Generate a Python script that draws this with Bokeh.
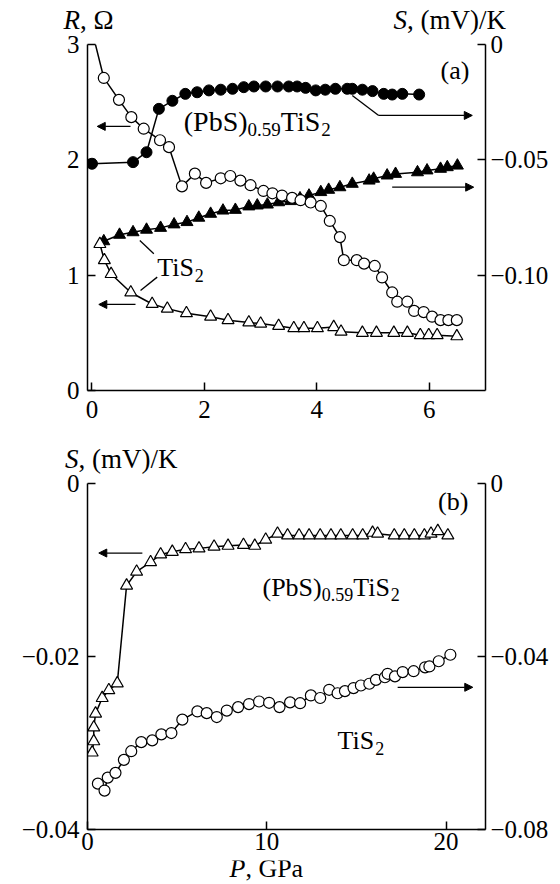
from bokeh.plotting import figure
from bokeh.models import (Range1d, LinearAxis, FixedTicker, CustomJSTickFormatter,
                          Label, Arrow, NormalHead)
from bokeh.layouts import column
from bokeh.embed import file_html
from bokeh.resources import INLINE

FONT = "Liberation Serif"

# ---------------- data, panel (a) ----------------
# (PbS)0.59TiS2 resistance, Ohm (open circles, left axis)
pbs_R_p = [0.0, 0.21, 0.48, 0.70, 0.92, 1.21, 1.37, 1.60, 1.83, 2.03, 2.29, 2.46, 2.64, 2.82,
           3.05, 3.21, 3.38, 3.56, 3.71, 3.89, 4.07, 4.23, 4.41, 4.48, 4.71, 4.84, 5.03, 5.16,
           5.34, 5.43, 5.61, 5.73, 5.90, 6.05, 6.20, 6.34, 6.49]
pbs_R = [3.12, 2.71, 2.52, 2.37, 2.27, 2.17, 2.11, 1.77, 1.88, 1.80, 1.84, 1.86, 1.82, 1.78,
         1.73, 1.71, 1.69, 1.67, 1.65, 1.63, 1.60, 1.47, 1.33, 1.13, 1.13, 1.10, 1.08, 0.98,
         0.85, 0.77, 0.77, 0.69, 0.68, 0.64, 0.61, 0.61, 0.61]

# (PbS)0.59TiS2 thermopower, mV/K (filled circles, right axis)
pbs_S_p = [0.0, 0.73, 0.97, 1.19, 1.43, 1.66, 1.87, 2.08, 2.29, 2.50, 2.70, 2.88, 3.09, 3.30,
           3.50, 3.65, 3.80, 3.98, 4.15, 4.33, 4.54, 4.63, 4.81, 4.99, 5.19, 5.34, 5.52, 5.82]
pbs_S = [-0.0517, -0.0510, -0.0467, -0.0279, -0.0244, -0.0214, -0.0207, -0.0199, -0.0196,
         -0.0192, -0.0185, -0.0182, -0.0182, -0.0182, -0.0182, -0.0182, -0.0188, -0.0199,
         -0.0196, -0.0192, -0.0192, -0.0192, -0.0196, -0.0202, -0.0214, -0.0217, -0.0214,
         -0.0217]

# TiS2 thermopower, mV/K (filled triangles, right axis)
tis_S_p = [0.21, 0.49, 0.73, 0.97, 1.22, 1.46, 1.69, 1.90, 2.11, 2.33, 2.55, 2.79, 2.94, 3.12,
           3.32, 3.53, 3.70, 3.86, 4.07, 4.21, 4.41, 4.63, 4.93, 5.01, 5.25, 5.40, 5.79, 5.96,
           6.20, 6.32, 6.50]
tis_S = [-0.0853, -0.0825, -0.0814, -0.0803, -0.0795, -0.0780, -0.0770, -0.0751, -0.0734,
         -0.0720, -0.0717, -0.0702, -0.0698, -0.0694, -0.0684, -0.0679, -0.0667, -0.0655,
         -0.0640, -0.0630, -0.0619, -0.0604, -0.0590, -0.0582, -0.0568, -0.0561, -0.0554,
         -0.0546, -0.0539, -0.0532, -0.0525]

# TiS2 resistance, Ohm (open triangles, left axis)
tis_R_p = [0.14, 0.22, 0.34, 0.69, 1.07, 1.34, 1.68, 2.11, 2.42, 2.79, 3.00, 3.32, 3.59, 3.77,
           4.01, 4.30, 4.43, 4.81, 5.06, 5.37, 5.61, 5.84, 5.99, 6.14, 6.49]
tis_R = [1.27, 1.13, 1.01, 0.85, 0.75, 0.71, 0.67, 0.64, 0.61, 0.59, 0.58, 0.56, 0.54, 0.54,
         0.54, 0.55, 0.51, 0.50, 0.50, 0.50, 0.50, 0.48, 0.48, 0.48, 0.47]

# ---------------- data, panel (b) ----------------
# (PbS)0.59TiS2 thermopower vs P (open triangles, left axis)
b_pbs_p = [0.26, 0.35, 0.35, 0.45, 0.82, 1.19, 1.66, 2.18, 2.74, 3.52, 4.08, 4.73, 5.47, 6.22,
           7.06, 7.84, 8.70, 9.33, 9.94, 10.60, 11.16, 11.80, 12.36, 12.98, 13.58, 14.13,
           14.79, 15.35, 15.90, 16.18, 17.11, 17.67, 18.23, 18.79, 19.16, 19.54, 20.10]
b_pbs_S = [-0.0311, -0.0298, -0.0282, -0.0266, -0.0248, -0.0239, -0.0231, -0.0118, -0.0102,
           -0.0091, -0.0082, -0.0079, -0.0076, -0.0075, -0.0073, -0.0072, -0.0071, -0.0072,
           -0.0065, -0.0058, -0.0060, -0.0060, -0.0060, -0.0060, -0.0060, -0.0060, -0.0060,
           -0.0060, -0.0057, -0.0058, -0.0060, -0.0060, -0.0060, -0.0060, -0.0058, -0.0055,
           -0.0060]

# TiS2 thermopower vs P (open circles, right axis)
b_tis_p = [0.58, 0.95, 1.13, 1.56, 2.03, 2.44, 3.00, 3.61, 4.12, 4.68, 5.29, 6.13, 6.65, 7.21,
           7.77, 8.40, 9.01, 9.57, 10.13, 10.71, 11.30, 11.86, 12.46, 12.98, 13.48, 13.95,
           14.36, 14.84, 15.25, 15.72, 16.09, 16.59, 16.74, 17.15, 17.58, 18.19, 18.83, 19.07,
           19.59, 20.24]
b_tis_S = [-0.0694, -0.0710, -0.0680, -0.0669, -0.0639, -0.0619, -0.0598, -0.0594, -0.0580,
           -0.0577, -0.0546, -0.0527, -0.0531, -0.0540, -0.0525, -0.0517, -0.0510, -0.0504,
           -0.0507, -0.0517, -0.0506, -0.0508, -0.0490, -0.0496, -0.0477, -0.0485, -0.0480,
           -0.0473, -0.0467, -0.0463, -0.0454, -0.0448, -0.0440, -0.0446, -0.0436, -0.0434,
           -0.0425, -0.0423, -0.0411, -0.0396]

# tick values
a_xticks = [0, 2, 4, 6]
a_lticks = [0, 1, 2, 3]
a_rticks = [0, -0.05, -0.10]
b_xticks = [0, 10, 20]
b_lticks = [0, -0.02, -0.04]
b_rticks = [0, -0.04, -0.08]

# ---------------- helpers ----------------
W_REG = {'(': 333, ')': 333, 'P': 556, 'b': 500, 'S': 556, 'T': 611, 'i': 278, '0': 500,
         '2': 500, '5': 500, '9': 500, '.': 250, ',': 250, ' ': 250, 'Ω': 768, 'm': 778,
         'V': 722, '/': 278, 'K': 722, 'G': 722, 'a': 444}
W_IT = {'R': 611, 'S': 500, 'P': 611}
RAISE = 0.37   # label anchor sits this many ems above the visual baseline

def tw(s, size, italic):
    tab = W_IT if italic else W_REG
    return sum(tab.get(c, W_REG.get(c, 500)) for c in s) / 1000.0 * size

def rich(p, x, y, parts):
    # y is the wanted baseline; each part: (text, size, italic, drop in px)
    dx = 0.0
    for text, size, italic, drop in parts:
        p.add_layout(Label(x=x, y=y, x_offset=dx, y_offset=RAISE * size - drop, text=text,
                           text_font=FONT, text_font_size=f"{size}px",
                           text_font_style="italic" if italic else "normal",
                           text_baseline="alphabetic", text_align="left",
                           text_color="black"))
        dx += tw(text, size, italic)

def compound(p, x, y, big=26, small=18):
    rich(p, x, y, [("(PbS)", big, False, 0), ("0.59", small, False, 4),
                   ("TiS", big, False, 0), ("2", small, False, 4)])

def tis2(p, x, y, big=26, small=18):
    rich(p, x, y, [("TiS", big, False, 0), ("2", small, False, 5)])

def arrow(p, x0, y0, x1, y1, head=True):
    p.add_layout(Arrow(x_start=x0, y_start=y0, x_end=x1, y_end=y1, line_width=1.3,
                       line_color="black",
                       end=NormalHead(size=8, fill_color="black", line_color="black",
                                      line_width=1) if head else None))

def style_axis(ax, ticks, fmt=None, standoff=8):
    ax.ticker = FixedTicker(ticks=ticks)
    if fmt is not None:
        ax.formatter = fmt
    ax.major_tick_in = 8
    ax.major_tick_out = 0
    ax.minor_tick_in = 0
    ax.minor_tick_out = 0
    ax.axis_line_width = 1.5
    ax.axis_line_color = "black"
    ax.major_tick_line_width = 1.5
    ax.major_tick_line_color = "black"
    ax.major_label_text_font = FONT
    ax.major_label_text_font_size = "25px"
    ax.major_label_text_color = "black"
    ax.major_label_standoff = standoff

def sfmt():
    return CustomJSTickFormatter(code='return tick == 0 ? "0" : "\\u2212" + Math.abs(tick).toFixed(2);')

W = 560

def base_fig(h, xr, yr, top, bottom):
    p = figure(width=W, height=h, x_range=xr, y_range=yr, output_backend="svg",
               toolbar_location=None, title=None, min_border_left=87, min_border_right=75,
               min_border_top=top, min_border_bottom=bottom, frame_align=False)
    p.xgrid.visible = False
    p.ygrid.visible = False
    p.outline_line_color = None
    p.background_fill_color = "white"
    p.border_fill_color = "white"
    return p

def strip(top, h):
    # text-only band; its data coordinates equal page pixels
    s = figure(width=W, height=h, x_range=Range1d(0, W), y_range=Range1d(top + h, top),
               output_backend="svg", toolbar_location=None, title=None,
               min_border_left=0, min_border_right=0, min_border_top=0, min_border_bottom=0,
               x_axis_type=None, y_axis_type=None, frame_align=False)
    s.xgrid.visible = False
    s.ygrid.visible = False
    s.outline_line_color = None
    s.background_fill_color = "white"
    s.border_fill_color = "white"
    return s

LW = 1.5

# ---------------- top strip (titles of panel a) ----------------
s_top = strip(0, 35)
rich(s_top, 63, 29, [("R", 27, True, 0), (", Ω", 27, False, 0)])
rich(s_top, 393, 29, [("S", 27, True, 0), (", (mV)/K", 27, False, 0)])

# ---------------- panel (a) ----------------
pa = base_fig(398, Range1d(-0.08, 7.0), Range1d(0, 3), 9, 43)
pa.extra_y_ranges = {"s": Range1d(-0.15, 0)}
style_axis(pa.xaxis[0], a_xticks, standoff=10)
style_axis(pa.yaxis[0], a_lticks, standoff=8)
ra = LinearAxis(y_range_name="s")
style_axis(ra, a_rticks, fmt=sfmt(), standoff=5)
pa.add_layout(ra, "right")

pa.line(pbs_S_p, pbs_S, y_range_name="s", line_color="black", line_width=LW)
pa.scatter(pbs_S_p, pbs_S, y_range_name="s", marker="circle", size=11,
           fill_color="black", line_color="black")
pa.line(tis_S_p, tis_S, y_range_name="s", line_color="black", line_width=LW)
pa.scatter(tis_S_p, tis_S, y_range_name="s", marker="triangle", size=12,
           fill_color="black", line_color="black")
pa.line(tis_R_p, tis_R, line_color="black", line_width=LW)
pa.scatter(tis_R_p, tis_R, marker="triangle", size=12, fill_color="white",
           line_color="black", line_width=1.2)
pa.line(pbs_R_p, pbs_R, line_color="black", line_width=LW)
pa.scatter(pbs_R_p, pbs_R, marker="circle", size=11, fill_color="white",
           line_color="black", line_width=1.2)

rich(pa, 6.20, 2.689, [("(a)", 26, False, 0)])
compound(pa, 1.633, 2.240, big=28, small=19)
tis2(pa, 1.160, 0.983)
arrow(pa, 0.685, 2.29, 0.093, 2.29)
arrow(pa, 0.774, 0.746, 0.121, 0.746)
arrow(pa, 4.63, 2.558, 5.10, 2.385, head=False)
arrow(pa, 5.10, 2.385, 6.765, 2.385)
arrow(pa, 5.34, 1.763, 6.79, 1.763)
arrow(pa, 0.851, 1.301, 1.10, 1.186, head=False)
arrow(pa, 0.863, 0.867, 1.160, 0.983, head=False)

# ---------------- middle strip (title of panel b) ----------------
s_mid = strip(433, 41)
rich(s_mid, 64.5, 468, [("S", 27, True, 0), (", (mV)/K", 27, False, 0)])

# ---------------- panel (b) ----------------
pb = base_fig(386, Range1d(0, 22.2), Range1d(-0.04, 0), 9, 31)
pb.extra_y_ranges = {"s": Range1d(-0.08, 0)}
style_axis(pb.xaxis[0], b_xticks, standoff=3)
style_axis(pb.yaxis[0], b_lticks, fmt=sfmt(), standoff=8)
rb = LinearAxis(y_range_name="s")
style_axis(rb, b_rticks, fmt=sfmt(), standoff=5)
pb.add_layout(rb, "right")

pb.line(b_pbs_p, b_pbs_S, line_color="black", line_width=LW)
pb.scatter(b_pbs_p, b_pbs_S, marker="triangle", size=12, fill_color="white",
           line_color="black", line_width=1.2)
pb.line(b_tis_p, b_tis_S, y_range_name="s", line_color="black", line_width=LW)
pb.scatter(b_tis_p, b_tis_S, y_range_name="s", marker="circle", size=11,
           fill_color="white", line_color="black", line_width=1.2)

rich(pb, 19.55, -0.00315, [("(b)", 26, False, 0)])
compound(pb, 9.76, -0.01316)
tis2(pb, 13.95, -0.03087)
arrow(pb, 3.06, -0.00804, 0.63, -0.00804)
arrow(pb, 17.30, -0.02356, 21.49, -0.02356)

# ---------------- bottom strip (x title of panel b) ----------------
s_bot = strip(860, 24)
rich(s_bot, 229, 878, [("P", 26, True, 0), (", GPa", 26, False, 0)])

layout = column(s_top, pa, s_mid, pb, s_bot)
with open("out.html", "w", encoding="utf-8") as f:
    f.write(file_html(layout, INLINE))
